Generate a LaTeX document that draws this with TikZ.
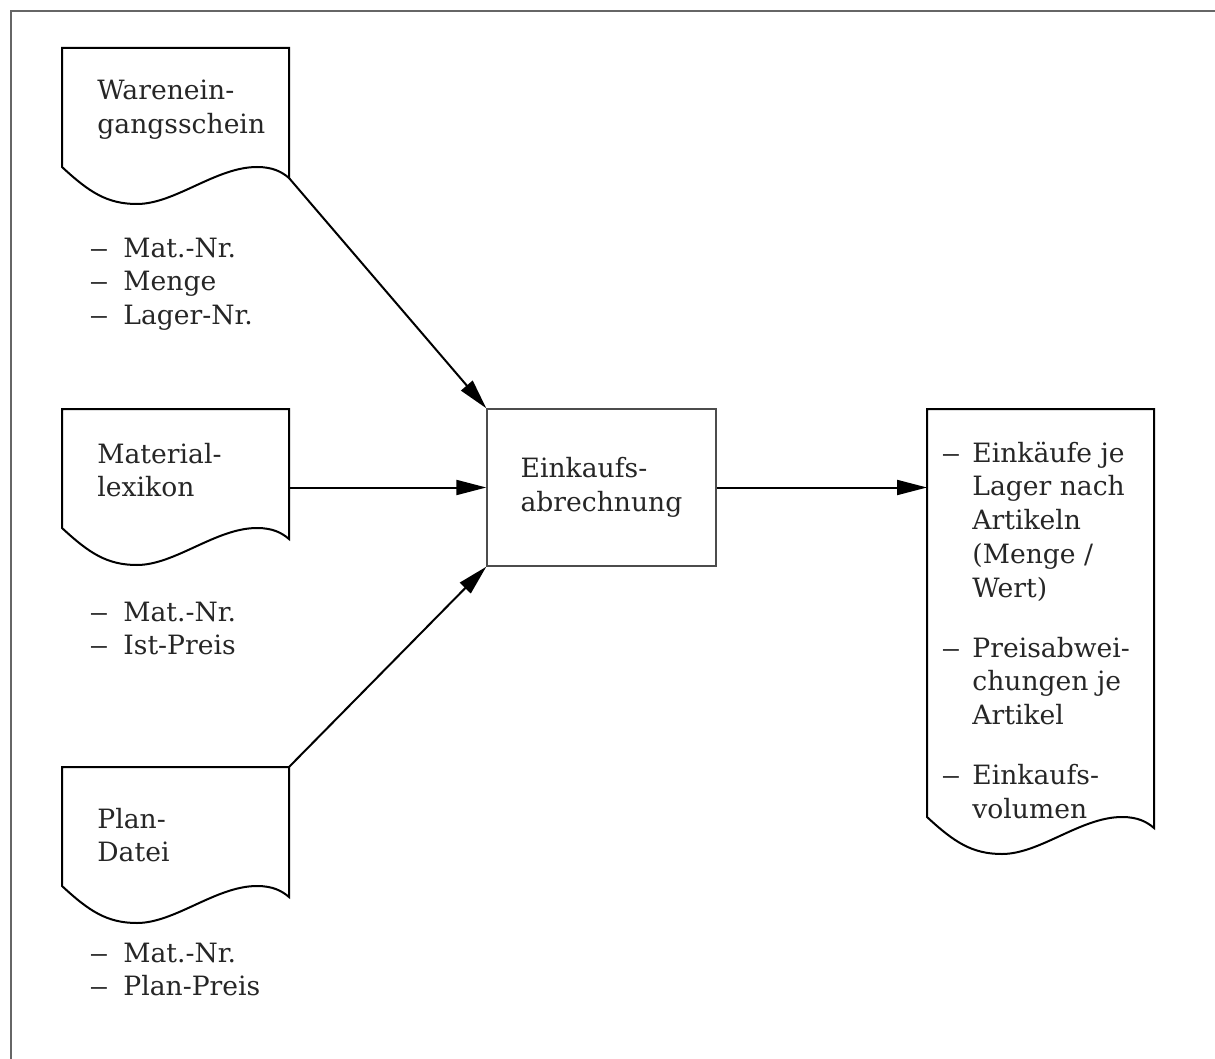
\documentclass[tikz,border=0pt]{standalone}
\usepackage{fontspec}
\setmainfont{DejaVu Serif}
\usetikzlibrary{arrows.meta}

% multi-line text whose reference point is the first baseline
\newcommand{\txtlines}[1]{\begin{tabular}[t]{@{}l@{}}#1\end{tabular}}
% a slightly widened dash
\newcommand{\dash}{\scalebox{1.45}[1]{–}}
% dash followed by an item
\newcommand{\dl}{\makebox[17pt][l]{\dash}}

% document symbol with a wavy lower edge: name, left x, top y, height of left edge
\newcommand{\wavedoc}[4]{%
  \draw[docline] (#2,#3+#4) -- (#2,#3) -- (#2+227,#3) -- (#2+227,#3+#4+11)
    .. controls (#2+220,#3+#4+5) and (#2+211,#3+#4) .. (#2+195,#3+#4)
    .. controls (#2+154,#3+#4) and (#2+113,#3+#4+37) .. (#2+75,#3+#4+37)
    .. controls (#2+45,#3+#4+37) and (#2+27,#3+#4+25) .. (#2,#3+#4) -- cycle;
  \coordinate (#1-nw) at (#2,#3);
  \coordinate (#1-ne) at (#2+227,#3);
  \coordinate (#1-se) at (#2+227,#3+#4+11);
}

\tikzset{
  docline/.style={line width=1pt, line join=miter},
  procbox/.style={draw=black!70, line width=0.7pt, minimum width=114.5pt,
    minimum height=78.5pt, inner sep=0pt, align=left},
  flow/.style={line width=1pt, -{Triangle[length=15pt,width=7.5pt]}},
  txt/.style={inner sep=0pt, anchor=base west},
  frameline/.style={draw=black!60, line width=0.8pt},
}

\begin{document}
\begin{tikzpicture}[x=0.5pt, y=-0.5pt,
  every node/.style={font=\fontsize{13.3}{16.9}\selectfont, text=black!85}]
\useasboundingbox (0,0) rectangle (1215,1059);

% outer frame
\draw[frameline] (11,1059) -- (11,11) -- (1215,11);

% input documents
\wavedoc{d1}{62}{48}{119}
\wavedoc{d2}{62}{409}{119}
\wavedoc{d3}{62}{767}{119}
% output document
\wavedoc{d4}{927}{409}{408}

\node[txt] (d1txt) at (97,100) {\txtlines{Warenein-\\gangsschein}};
\node[txt] (d2txt) at (97,463) {\txtlines{Material-\\lexikon}};
\node[txt] (d3txt) at (97,828) {\txtlines{Plan-\\Datei}};

% data fields of each input
\node[txt] (d1list) at (89,257) {\txtlines{\dl Mat.-Nr.\\\dl Menge\\\dl Lager-Nr.}};
\node[txt] (d2list) at (89,621) {\txtlines{\dl Mat.-Nr.\\\dl Ist-Preis}};
\node[txt] (d3list) at (89,962) {\txtlines{\dl Mat.-Nr.\\\dl Plan-Preis}};

% process
\node[procbox] (proc) at (601.5,487.5) {\txtlines{Einkaufs-\\abrechnung}};

% results
\node[txt] (d4txt) at (941,462) {\begin{tabular}[t]{@{}p{15.5pt}@{}l@{}}
\dash & Einkäufe je\\
      & Lager nach\\
      & Artikeln\\
      & (Menge /\\
      & Wert)\\[13pt]
\dash & Preisabwei-\\
      & chungen je\\
      & Artikel\\[13pt]
\dash & Einkaufs-\\
      & volumen
\end{tabular}};

\coordinate (d2-out) at (289,487.5);
\coordinate (d4-in) at (927,487.5);

\draw[flow] (d1-se) -- (proc.north west);
\draw[flow] (d2-out) -- (proc.west);
\draw[flow] (d3-ne) -- (proc.south west);
\draw[flow] (proc.east) -- (d4-in);
\end{tikzpicture}
\end{document}
